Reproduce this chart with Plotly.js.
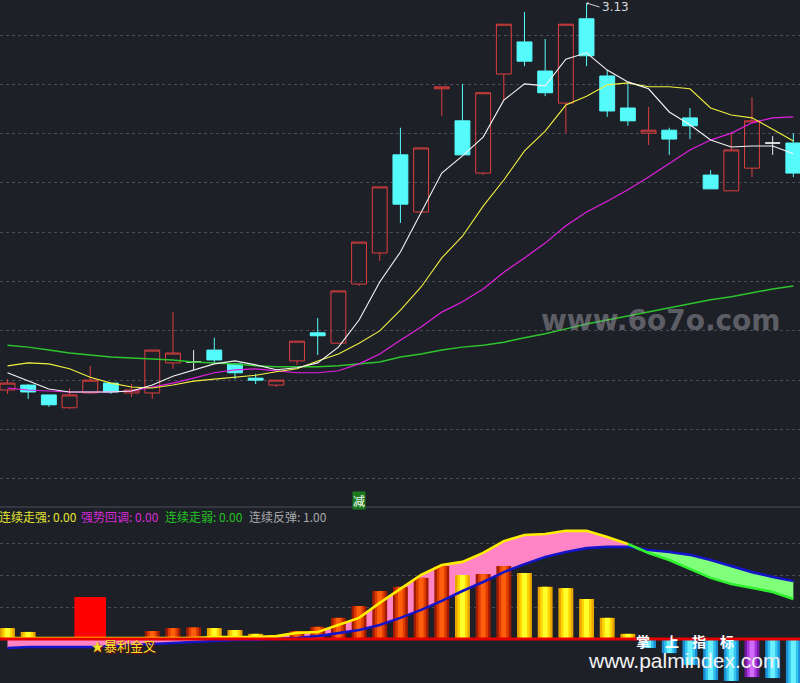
<!DOCTYPE html>
<html><head><meta charset="utf-8">
<script src="https://cdn.plot.ly/plotly-3.0.1.min.js"></script>
<style>html,body{margin:0;padding:0;background:#1e2028;}#chart{width:800px;height:683px;}</style>
</head><body><div id="chart"></div>
<script>
// ---- candle data (index of trading day) ----
const days = [0,1,2,3,4,5,6,7,8,9,10,11,12,13,14,15,16,17,18,19,20,21,22,23,24,25,26,27,28,29,30,31,32,33,34,35,36,37,38];
const openP  = [2.345,2.355,2.335,2.309,2.339,2.359,2.339,2.339,2.400,2.402,2.426,2.398,2.369,2.355,2.404,2.461,2.440,2.560,2.623,2.822,2.706,2.956,2.891,2.785,2.986,3.051,2.992,2.927,3.098,2.982,2.917,2.866,2.872,2.897,2.781,2.749,2.795,2.846,2.846];
const highP  = [2.367,2.357,2.335,2.349,2.394,2.359,2.357,2.426,2.503,2.426,2.451,2.398,2.378,2.365,2.444,2.491,2.546,2.645,2.757,2.877,2.836,2.960,2.966,2.948,3.087,3.112,3.057,3.087,3.130,2.994,2.968,2.919,2.877,2.917,2.791,2.868,2.939,2.860,2.866];
const lowP   = [2.337,2.327,2.311,2.307,2.337,2.337,2.331,2.327,2.388,2.386,2.400,2.367,2.357,2.351,2.396,2.416,2.440,2.556,2.607,2.684,2.706,2.901,2.822,2.781,2.933,3.002,2.941,2.866,3.002,2.899,2.881,2.842,2.822,2.854,2.753,2.749,2.777,2.822,2.777];
const closeP = [2.359,2.341,2.315,2.335,2.365,2.341,2.345,2.426,2.420,2.402,2.406,2.380,2.365,2.365,2.444,2.455,2.546,2.645,2.757,2.722,2.836,2.960,2.822,2.948,3.087,3.012,2.948,3.087,3.023,2.911,2.891,2.872,2.854,2.881,2.753,2.832,2.891,2.846,2.785];
// moving averages
const ma5  = [2.380,2.363,2.347,2.341,2.341,2.341,2.343,2.355,2.373,2.386,2.398,2.404,2.396,2.386,2.390,2.400,2.432,2.487,2.564,2.625,2.704,2.785,2.820,2.858,2.933,2.966,2.962,3.016,3.029,2.994,2.970,2.956,2.909,2.883,2.852,2.838,2.840,2.840,2.824];
const ma10 = [2.394,2.400,2.398,2.388,2.371,2.359,2.351,2.349,2.355,2.363,2.367,2.371,2.375,2.382,2.388,2.404,2.418,2.440,2.465,2.507,2.554,2.613,2.657,2.718,2.771,2.830,2.870,2.923,2.941,2.964,2.968,2.960,2.960,2.956,2.917,2.903,2.897,2.874,2.850];
const ma20 = [2.349,2.345,2.343,2.341,2.341,2.341,2.343,2.351,2.359,2.369,2.380,2.386,2.388,2.384,2.380,2.380,2.384,2.398,2.418,2.446,2.473,2.503,2.524,2.550,2.584,2.613,2.643,2.678,2.706,2.728,2.751,2.777,2.805,2.832,2.852,2.866,2.887,2.897,2.899];
const ma60 = [2.436,2.432,2.426,2.420,2.416,2.412,2.410,2.408,2.406,2.402,2.400,2.398,2.394,2.392,2.392,2.392,2.394,2.398,2.402,2.412,2.418,2.426,2.432,2.436,2.442,2.451,2.459,2.469,2.479,2.487,2.495,2.503,2.512,2.520,2.528,2.534,2.542,2.550,2.556];
const gridPrices = [3.065,2.965,2.865,2.765,2.665,2.565,2.465,2.365,2.265,2.165];
const highLabel = '3.13';
// ---- indicator panel ----
const histValues = [0.034,0.022,0.006,0,0.131,0,0,0.025,0.034,0.036,0.034,0.028,0.016,0.009,0.025,0.038,0.066,0.103,0.150,0.163,0.191,0.228,0.200,0.203,0.228,0.206,0.163,0.159,0.125,0.066,0.016,-0.028,-0.044,-0.081,-0.128,-0.131,-0.119,-0.122,-0.150];
const histKind   = ['Y','Y','Y','Y','R','Y','Y','O','O','O','Y','Y','Y','Y','O','O','O','O','O','O','O','O','Y','O','O','Y','Y','Y','Y','Y','Y','C','C','C','C','C','P','C','C'];
const fastLine = [0.003,0.003,0.003,0.003,0.003,0.003,0.003,0.003,0.003,0.003,0.006,0.006,0.006,0.009,0.019,0.022,0.044,0.066,0.113,0.156,0.200,0.231,0.241,0.269,0.306,0.325,0.328,0.338,0.338,0.319,0.297,0.269,0.247,0.219,0.191,0.172,0.159,0.147,0.125];
const slowLine = [-0.028,-0.025,-0.025,-0.025,-0.025,-0.022,-0.019,-0.016,-0.013,-0.009,-0.006,-0.003,-0.003,0,0.003,0.009,0.019,0.028,0.044,0.066,0.091,0.119,0.150,0.178,0.209,0.234,0.256,0.272,0.284,0.288,0.288,0.278,0.272,0.263,0.247,0.228,0.209,0.194,0.181];
const legendItems = [
  {label:'连续走强', value:'0.00'},
  {label:'强势回调', value:'0.00'},
  {label:'连续走弱', value:'0.00'},
  {label:'连续反弹', value:'1.00'}
];
const signalText = '★暴利金叉';
const markText = '减';
const markDay = 17;
const signalDay = 4;
const crossDay = 30;

// ---- build ----
const BG = '#1e2028';
const RED = '#dc3e3e', CYAN = '#55fbfb';
const upI=[], dnI=[], djI=[];
days.forEach(i => {
  if (closeP[i] > openP[i]) upI.push(i);
  else if (closeP[i] < openP[i]) dnI.push(i);
  else djI.push(i);
});
function candle(ids, lineCol, fill) {
  return {type:'candlestick', x:ids.map(i=>days[i]), open:ids.map(i=>openP[i]), high:ids.map(i=>highP[i]),
    low:ids.map(i=>lowP[i]), close:ids.map(i=>closeP[i]), xaxis:'x', yaxis:'y', hoverinfo:'skip',
    increasing:{line:{color:lineCol,width:1}, fillcolor:fill},
    decreasing:{line:{color:lineCol,width:1}, fillcolor:fill}, whiskerwidth:0};
}
function maLine(vals, col, w) {
  return {type:'scatter', mode:'lines', x:days, y:vals, xaxis:'x', yaxis:'y', hoverinfo:'skip',
    line:{color:col, width:w}};
}
const traces = [
  candle(upI, RED, 'rgba(0,0,0,0)'),
  candle(dnI, CYAN, CYAN),
  candle(djI, '#f0f0f0', '#f0f0f0'),
  maLine(ma60, '#2ec42e', 1.5),
  maLine(ma20, '#e020e0', 1.2),
  maLine(ma10, '#f0f040', 1.1),
  maLine(ma5, '#f4f4f4', 1.1)
];
// fills (y2, drawn beneath bars)
const upper = days.map(i => Math.max(fastLine[i], slowLine[i]));
const lower = days.map(i => Math.min(fastLine[i], slowLine[i]));
traces.push({type:'scatter', mode:'lines', x:days, y:slowLine, xaxis:'x', yaxis:'y2', line:{width:0}, hoverinfo:'skip'});
traces.push({type:'scatter', mode:'lines', x:days, y:upper, xaxis:'x', yaxis:'y2', line:{width:0}, fill:'tonexty', fillcolor:'#ff84c6', hoverinfo:'skip'});
traces.push({type:'scatter', mode:'lines', x:days, y:slowLine, xaxis:'x', yaxis:'y2', line:{width:0}, hoverinfo:'skip'});
traces.push({type:'scatter', mode:'lines', x:days, y:lower, xaxis:'x', yaxis:'y2', line:{width:0}, fill:'tonexty', fillcolor:'#80ff7a', hoverinfo:'skip'});
// bars (y3 overlay) as layered gradient
const palettes = [
  {Y:'#e8a400', O:'#a41c00', R:'#ff0000', C:'#1a8fd6', P:'#7818a6', w:0.72},
  {Y:'#ffd400', O:'#dc3c00', R:'#ff0000', C:'#34c4f0', P:'#a636d6', w:0.48},
  {Y:'#ffff2a', O:'#ff5e0c', R:'#ff0000', C:'#6cf0ff', P:'#d06cff', w:0.24}
];
palettes.forEach(p => {
  traces.push({type:'bar', x:days, y:histValues, xaxis:'x', yaxis:'y3', hoverinfo:'skip',
    width: histKind.map(k => k==='R' ? 1.5 : p.w),
    marker:{color: histKind.map(k => p[k]), line:{width:0}}});
});
traces.push({type:'scatter', mode:'lines', x:days, y:slowLine, xaxis:'x', yaxis:'y3', line:{color:'#1414c8', width:2.6}, hoverinfo:'skip'});
const yIdx = days.filter(i => i <= crossDay), gIdx = days.filter(i => i >= crossDay);
traces.push({type:'scatter', mode:'lines', x:yIdx, y:yIdx.map(i=>fastLine[i]), xaxis:'x', yaxis:'y3', line:{color:'#ffee00', width:2.6}, hoverinfo:'skip'});
traces.push({type:'scatter', mode:'lines', x:gIdx, y:gIdx.map(i=>fastLine[i]), xaxis:'x', yaxis:'y3', line:{color:'#2ef02e', width:2.6}, hoverinfo:'skip'});

const H = 683, W = 800;
const split = 1 - 507/H;
const botRange = [-0.1375, 0.4125];
const legendColors = ['#e6e62e', '#d62ad6', '#22c422', '#a8a8a8'];
const legendX = [-3, 79, 163, 247];
const cjk = 'Noto Sans CJK SC, sans-serif';
const annotations = [];
legendItems.forEach((it, k) => {
  annotations.push({xref:'paper', yref:'paper', x:legendX[k]/W, y:1-516/H, xanchor:'left', yanchor:'middle',
    text: it.label + ': ' + it.value, showarrow:false, font:{family:cjk, size:12, color:legendColors[k]}});
});
annotations.push({xref:'x', yref:'y', x:28, y:highP[28], text:highLabel, showarrow:true, ax:13, ay:4,
  xanchor:'left', yanchor:'middle', arrowhead:1, arrowsize:0.6, arrowwidth:1, arrowcolor:'#cfcfcf', standoff:0,
  font:{family:'DejaVu Sans, sans-serif', size:12, color:'#d8d8d8'}});
annotations.push({xref:'x', yref:'paper', x:markDay, y:1-500/H, text:markText, showarrow:false, xanchor:'center', yanchor:'middle',
  bgcolor:'#1c7a1c', borderpad:0, font:{family:cjk, size:12, color:'#ffffff'}});
annotations.push({xref:'x', yref:'y3', x:signalDay - 0.05, y:-0.019, text:signalText, showarrow:false, xanchor:'left', yanchor:'middle',
  font:{family:cjk, size:13, color:'#f2e22a', shadow:'1px 1px 1px #8a0000'}});
annotations.push({xref:'paper', yref:'paper', x:661/W, y:1-321/H, text:'www.6o7o.com', showarrow:false, xanchor:'center', yanchor:'middle',
  font:{family:'DejaVu Sans, sans-serif', size:28, color:'rgba(150,150,156,0.55)', weight:'bold'}});
[['掌',643],['上',672],['指',699],['标',727]].forEach(([c,px]) => {
  annotations.push({xref:'paper', yref:'paper', x:px/W, y:1-641/H, text:c, showarrow:false, xanchor:'center', yanchor:'middle',
    font:{family:cjk, size:14, color:'#ffffff', weight:'bold'}});
});
annotations.push({xref:'paper', yref:'paper', x:684/W, y:1-660/H, text:'www.palmindex.com', showarrow:false, xanchor:'center', yanchor:'middle',
  font:{family:'Liberation Sans, Arial, sans-serif', size:21, color:'#f2f2f2'}});

const layout = {
  width:W, height:H, margin:{l:0,r:0,t:0,b:0}, paper_bgcolor:BG, plot_bgcolor:BG,
  showlegend:false, hovermode:false, barmode:'overlay', dragmode:false, boxgap:0.28, boxgroupgap:0,
  xaxis:{range:[-7.5/20.68, -7.5/20.68 + W/20.68], showgrid:false, zeroline:false, showticklabels:false,
    ticks:'', showline:false, rangeslider:{visible:false}, fixedrange:true},
  yaxis:{domain:[split,1], range:[2.1077,3.1361], tickvals:gridPrices, showticklabels:false, ticks:'',
    showgrid:true, gridcolor:'#4a4c56', griddash:'dot', gridwidth:1, zeroline:false, showline:false, fixedrange:true},
  yaxis2:{domain:[0,split], range:botRange, tickvals:[0.1,0.2,0.3], showticklabels:false, ticks:'',
    showgrid:true, gridcolor:'#4a4c56', griddash:'dot', zeroline:false, showline:false, fixedrange:true},
  yaxis3:{overlaying:'y2', range:botRange, visible:false, showgrid:false, zeroline:false, fixedrange:true},
  shapes:[
    {type:'line', xref:'paper', yref:'paper', x0:0, x1:1, y0:split, y1:split, line:{color:'#4c4e58', width:1}},
    {type:'line', xref:'paper', yref:'y3', x0:0, x1:1, y0:0, y1:0, line:{color:'#e40000', width:3}}
  ],
  annotations: annotations
};
Plotly.newPlot('chart', traces, layout, {displayModeBar:false, staticPlot:true});
</script>
</body></html>
